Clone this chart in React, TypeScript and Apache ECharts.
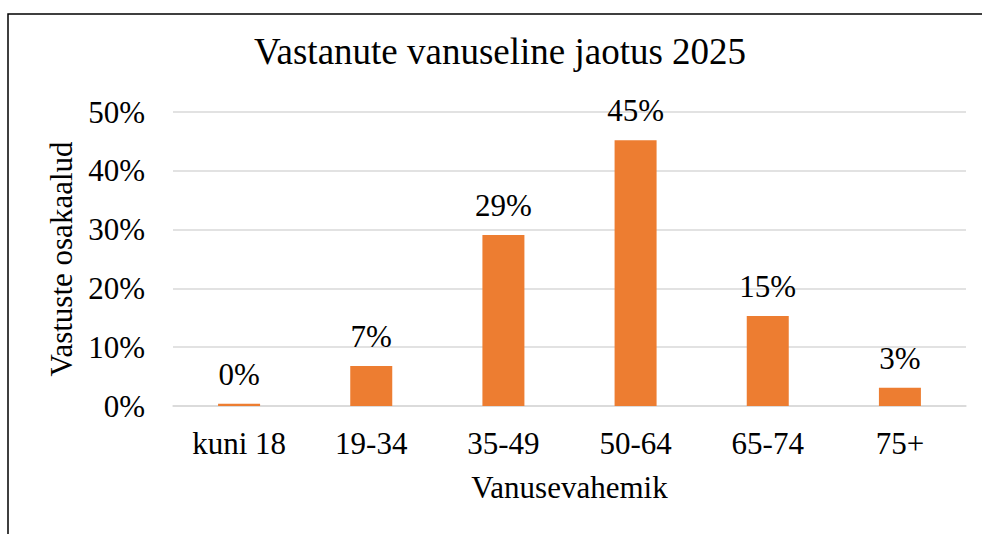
import React, { useEffect, useRef } from "react";
import * as echarts from "echarts";

const titleText = "Vastanute vanuseline jaotus 2025";
const categories = ["kuni 18", "19-34", "35-49", "50-64", "65-74", "75+"];
const shares = [0.004, 0.068, 0.291, 0.452, 0.153, 0.031];
const yAxisName = "Vastuste osakaalud";
const xAxisName = "Vanusevahemik";

const FONT = "'Liberation Serif', 'Times New Roman', serif";

export default function App() {
  const ref = useRef<HTMLDivElement>(null);
  useEffect(() => {
    if (!ref.current) return;
    const chart = echarts.init(ref.current, null, { renderer: "svg" });
    chart.setOption({
      animation: false,
      backgroundColor: "#ffffff",
      textStyle: { fontFamily: FONT },
      title: {
        text: titleText,
        left: 500,
        top: 33,
        textAlign: "center",
        padding: 0,
        textStyle: { fontFamily: FONT, fontSize: 37, fontWeight: "normal", color: "#000000" },
      },
      graphic: [
        {
          type: "rect",
          shape: { x: 8, y: 14, width: 1100, height: 700 },
          style: { fill: "none", stroke: "#000000", lineWidth: 1.5 },
          silent: true,
        },
      ],
      grid: { left: 173, right: 16, top: 112, bottom: 128, containLabel: false },
      xAxis: {
        type: "category",
        data: categories,
        name: xAxisName,
        nameLocation: "middle",
        nameGap: 66,
        nameTextStyle: { fontFamily: FONT, fontSize: 31, color: "#000000" },
        axisLine: { show: true, lineStyle: { color: "#d9d9d9", width: 1.5 } },
        axisTick: { show: false },
        axisLabel: { fontFamily: FONT, fontSize: 31, color: "#000000", margin: 22 },
      },
      yAxis: {
        type: "value",
        min: 0,
        max: 0.5,
        interval: 0.1,
        name: yAxisName,
        nameLocation: "middle",
        nameGap: 96,
        nameTextStyle: { fontFamily: FONT, fontSize: 31, color: "#000000" },
        axisLine: { show: false },
        axisTick: { show: false },
        axisLabel: {
          fontFamily: FONT,
          fontSize: 31,
          color: "#000000",
          margin: 28,
          formatter: (v: number) => Math.round(v * 100) + "%",
        },
        splitLine: { show: true, lineStyle: { color: "#d9d9d9", width: 1.5 } },
      },
      series: [
        {
          type: "bar",
          data: shares,
          barWidth: 42,
          itemStyle: { color: "#ed7d31" },
          label: {
            show: true,
            position: "top",
            distance: 14,
            fontFamily: FONT,
            fontSize: 31,
            color: "#000000",
            formatter: (p: any) => Math.round(p.value * 100) + "%",
          },
        },
      ],
    });
    return () => chart.dispose();
  }, []);
  return (
    <div
      ref={ref}
      style={{ position: "fixed", left: 0, top: 0, width: 982, height: 534, background: "#fff" }}
    />
  );
}
